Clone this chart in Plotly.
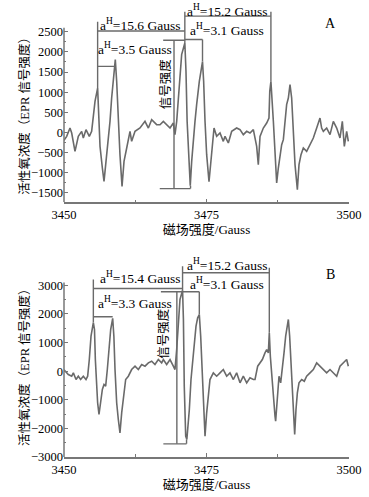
import plotly.graph_objects as go

# ---------------- data: panel A ----------------
field_A = [3450.00, 3450.47, 3451.05, 3451.35, 3451.93, 3452.51, 3453.10, 3453.39, 3453.86, 3454.44,
           3454.85, 3455.15, 3455.44, 3455.90, 3456.10, 3456.32, 3456.73, 3457.02, 3457.37, 3457.66,
           3458.07, 3458.36, 3458.65, 3459.00, 3459.24, 3459.53, 3459.82, 3460.18, 3460.53, 3461.00,
           3461.58, 3461.87, 3462.46, 3463.33, 3464.21, 3464.80, 3465.38, 3466.26, 3466.84, 3467.43,
           3468.01, 3468.60, 3469.18, 3469.47, 3469.77, 3470.06, 3470.35, 3470.64, 3471.20, 3471.40,
           3471.60, 3471.85, 3472.15, 3472.40, 3472.69, 3472.98, 3473.27, 3473.74, 3474.30, 3474.50,
           3474.74, 3475.03, 3475.44, 3475.73, 3476.08, 3476.32, 3476.78, 3477.37, 3477.95, 3478.25,
           3478.83, 3479.42, 3480.29, 3480.88, 3481.46, 3482.05, 3482.63, 3483.22, 3483.80, 3484.09,
           3484.39, 3484.97, 3485.56, 3485.96, 3486.10, 3486.30, 3486.73, 3487.02, 3487.31, 3487.60,
           3487.89, 3488.19, 3488.48, 3488.77, 3489.06, 3489.36, 3489.65, 3489.94, 3490.23, 3490.53,
           3490.94, 3491.23, 3491.58, 3491.99, 3492.57, 3493.16, 3493.74, 3494.33, 3494.91, 3495.20,
           3495.50, 3496.08, 3496.67, 3497.25, 3497.84, 3498.42, 3498.83, 3499.18, 3499.59, 3499.88]
signal_A = [-200, -100, 107, -17, -473, -100, 25, -140, 66, -100,
            25, 356, 771, 1100, 274, -348, -888, -1219, -722, -348,
            274, 854, 1310, 1808, 1270, 274, -556, -1344, -722, -390,
            25, -224, 25, 107, 274, 107, 315, 191, 190, 274,
            191, 107, 232, -58, 274, 854, 1352, 1933, 2222, 1518,
            274, -556, -1330, -722, -141, 274, 689, 1269, 1760, 1269,
            274, -556, -1230, -804, -390, 107, -100, -17, -224, -100,
            -265, 25, 107, 66, -58, 25, -17, 66, -348, -804,
            -100, 107, 232, 356, 1020, 1269, 274, -556, -1261, -888,
            -556, -307, -183, 274, 689, 854, 1186, 854, -141, -804,
            -1426, -804, -556, -390, -473, -307, -141, 107, 356, 107,
            25, 107, -58, 274, 107, -141, 274, -348, 25, -224]

# ---------------- data: panel B ----------------
field_B = [3450.00, 3450.18, 3450.76, 3451.35, 3451.64, 3452.11, 3452.51, 3452.92, 3453.39, 3453.86,
           3454.15, 3454.44, 3454.74, 3455.15, 3455.35, 3455.50, 3455.70, 3455.90, 3456.14, 3456.43,
           3456.73, 3457.02, 3457.31, 3457.60, 3457.89, 3458.19, 3458.54, 3458.75, 3458.95, 3459.24,
           3459.53, 3459.82, 3460.12, 3460.41, 3460.82, 3461.29, 3461.87, 3462.46, 3463.04, 3463.63,
           3464.21, 3464.80, 3465.38, 3465.96, 3466.55, 3467.13, 3467.43, 3468.01, 3468.60, 3469.18,
           3469.47, 3469.77, 3470.06, 3470.35, 3470.80, 3470.95, 3471.10, 3471.35, 3471.55, 3471.99,
           3472.28, 3472.57, 3472.87, 3473.16, 3473.45, 3473.74, 3473.98, 3474.21, 3474.44, 3474.74,
           3475.03, 3475.32, 3475.61, 3476.20, 3476.78, 3477.37, 3477.95, 3478.54, 3479.12, 3479.71,
           3480.29, 3480.88, 3481.46, 3482.05, 3482.63, 3483.22, 3483.51, 3483.98, 3484.33, 3484.80,
           3485.26, 3485.56, 3485.85, 3486.02, 3486.20, 3486.43, 3486.73, 3487.02, 3487.13, 3487.43,
           3487.72, 3488.01, 3488.30, 3488.60, 3488.89, 3489.12, 3489.36, 3489.59, 3489.82, 3490.06,
           3490.29, 3490.47, 3490.70, 3490.94, 3491.23, 3491.70, 3492.16, 3492.57, 3493.16, 3493.74,
           3494.33, 3494.91, 3495.50, 3496.08, 3496.67, 3497.25, 3497.84, 3498.42, 3499.01, 3499.59,
           3499.88]
signal_B = [50, 0, -117, -175, -58, -291, -175, -291, -175, -291,
            -175, 408, 1224, 1700, 1458, 408, -524, -1105, -1514, -990,
            -640, -465, -524, 58, 874, 1458, 1850, 1224, 58, -1105,
            -1689, -2154, -1455, -874, -291, -175, 58, 175, 58, 233,
            175, 291, 350, 233, 408, 291, 408, 233, 408, 175,
            58, 758, 1808, 2507, 2830, 1808, -524, -2273, -2388, -1339,
            -291, 291, 991, 1573, 1865, 1982, 1224, 58, -1339, -2273,
            -1455, -758, -291, -58, -175, -58, 58, -175, -58, -291,
            -58, -408, -175, -408, -233, -291, -291, 175, 291, 408,
            641, 758, 641, 1343, 524, -175, -874, -1573, -1748, -874,
            -175, -408, 58, 641, 1224, 1573, 1808, 1224, 291, -874,
            -1806, -2214, -1339, -758, -408, -291, -350, -175, -58, 58,
            291, 175, 58, -58, 58, -58, -175, 175, 291, 408,
            175]

x_ticks = [3450, 3475, 3500]
y_ticks_A = [-1500, -1000, -500, 0, 500, 1000, 1500, 2000, 2500]
y_ticks_B = [-3000, -2000, -1000, 0, 1000, 2000, 3000]

# hyperfine peaks used for the splitting brackets
peaks_A = [3455.9, 3459.0, 3471.2, 3474.3, 3486.3]
peaks_B = [3455.15, 3458.54, 3470.8, 3473.74, 3486.02]
split_A = ["15.6", "3.5", "15.2", "3.1"]
split_B = ["15.4", "3.3", "15.2", "3.1"]

SERIF = "Liberation Serif, Times New Roman, Noto Sans CJK SC, serif"
LINE = "#6a6a6a"

fig = go.Figure()


def seg_trace(segs, xa, ya):
    xs, ys = [], []
    for x0, y0, x1, y1 in segs:
        xs += [x0, x1, None]
        ys += [y0, y1, None]
    return go.Scatter(x=xs, y=ys, mode="lines", xaxis=xa, yaxis=ya,
                      line=dict(color=LINE, width=1.4), hoverinfo="skip", showlegend=False)


p = peaks_A
segs_A = [
    (p[0], 1100, p[0], 2750), (p[0], 2520, p[2], 2520),
    (p[2], 2222, p[2], 3000), (p[2], 2890, p[4], 2890), (p[4], 1269, p[4], 3000),
    (p[2], 2310, p[3], 2310), (p[3], 1760, p[3], 2310),
    (p[0], 1640, p[1], 1640),
    (3467.4, 2290, p[2], 2290), (3469.3, -1400, 3469.3, 2290),
    (3466.8, -1400, 3472.2, -1400), (3472.2, -1400, 3472.2, -1330),
]
q = peaks_B
segs_B = [
    (q[0], 1700, q[0], 3207), (q[0], 2892, q[2], 2892),
    (q[2], 2830, q[2], 3672), (q[2], 3440, q[4], 3440), (q[4], 1343, q[4], 3616),
    (3467.0, 2776, q[3], 2776), (q[3], 1982, q[3], 2776),
    (q[0], 1902, q[1], 1902),
    (3469.8, -2540, 3469.8, 2776),
    (3467.43, -2540, 3471.5, -2540), (3471.5, -2540, 3471.5, -2388),
]

fig.add_trace(seg_trace(segs_A, "x", "y"))
fig.add_trace(seg_trace(segs_B, "x2", "y2"))

fig.add_trace(go.Scatter(x=field_A, y=signal_A, mode="lines",
                         line=dict(color=LINE, width=1.6), xaxis="x", yaxis="y", showlegend=False))
fig.add_trace(go.Scatter(x=field_B, y=signal_B, mode="lines",
                         line=dict(color=LINE, width=1.6), xaxis="x2", yaxis="y2", showlegend=False))

ax_common = dict(range=[3450, 3500], tickvals=x_ticks, ticks="inside", ticklen=4, tickwidth=1.2,
                 tickcolor="#777", showline=True, linecolor="#777", linewidth=1.5,
                 showgrid=False, zeroline=False, mirror=False,
                 minor=dict(tickvals=[3462.5, 3487.5], ticks="inside", ticklen=3, tickcolor="#777"),
                 tickfont=dict(family=SERIF, size=12.5, color="black"),
                 title=dict(text="磁场强度/Gauss", font=dict(family=SERIF, size=13, color="black"), standoff=3))
ay_common = dict(ticks="inside", ticklen=4, tickwidth=1.2, tickcolor="#777", showline=False,
                 showgrid=False, zeroline=False,
                 tickfont=dict(family=SERIF, size=12.5, color="black"))

fig.update_layout(
    width=369, height=497,
    margin=dict(l=64, r=20, t=8, b=40),
    paper_bgcolor="white", plot_bgcolor="white",
    font=dict(family=SERIF, color="black"),
    xaxis=dict(domain=[0, 1], anchor="y", **ax_common),
    xaxis2=dict(domain=[0, 1], anchor="y2", **ax_common),
    yaxis=dict(domain=[0.5673, 1], anchor="x", range=[-1740, 3093], tickvals=y_ticks_A,
               minor=dict(tickvals=[-1250, -750, -250, 250, 750, 1250, 1750, 2250],
                          ticks="inside", ticklen=2, tickcolor="#777"), **ay_common),
    yaxis2=dict(domain=[0, 0.437], anchor="x2", range=[-3000, 3860], tickvals=y_ticks_B,
                minor=dict(tickvals=[-2500, -1500, -500, 500, 1500, 2500],
                           ticks="inside", ticklen=2, tickcolor="#777"), **ay_common),
    shapes=[
        dict(type="line", xref="x domain", yref="y", x0=0, x1=0, y0=-1740, y1=2600,
             line=dict(color="#777", width=1.5)),
        dict(type="line", xref="x2 domain", yref="y2", x0=0, x1=0, y0=-3000, y1=3100,
             line=dict(color="#777", width=1.5)),
    ],
)

ann = []
fs = 13.5


def lab(text, x, y, xr, yr, size=fs, **kw):
    ann.append(dict(text=text, x=x, y=y, xref=xr, yref=yr, showarrow=False,
                    font=dict(family=SERIF, size=size, color="black"), **kw))


lab(f"a<sup>H</sup>={split_A[0]} Gauss", 3463.33, 2692, "x", "y")
lab(f"a<sup>H</sup>={split_A[1]} Gauss", 3462.46, 2087, "x", "y")
lab(f"a<sup>H</sup>={split_A[2]} Gauss", 3478.54, 3040, "x", "y")
lab(f"a<sup>H</sup>={split_A[3]} Gauss", 3478.54, 2560, "x", "y")
lab("A", 3496.67, 2709, "x", "y", size=14)
lab("信号强度", 3467.72, 1199, "x", "y", size=12.5, textangle=-90)
lab("活性氧浓度（EPR 信号强度）", -0.172, 502, "paper", "y", size=12.5, textangle=-90)

lab(f"a<sup>H</sup>={split_B[0]} Gauss", 3463.33, 3266, "x2", "y2")
lab(f"a<sup>H</sup>={split_B[1]} Gauss", 3462.46, 2392, "x2", "y2")
lab(f"a<sup>H</sup>={split_B[2]} Gauss", 3478.54, 3731, "x2", "y2")
lab(f"a<sup>H</sup>={split_B[3]} Gauss", 3478.54, 3056, "x2", "y2")
lab("B", 3496.67, 3382, "x2", "y2", size=14)
lab("信号强度", 3467.43, 1318, "x2", "y2", size=12.5, textangle=-90)
lab("活性氧浓度（EPR 信号强度）", -0.172, 270, "paper", "y2", size=12.5, textangle=-90)

fig.update_layout(annotations=ann)
fig.write_html("out.html", config={"displayModeBar": False},
               post_script="document.body.style.margin='0px';")
